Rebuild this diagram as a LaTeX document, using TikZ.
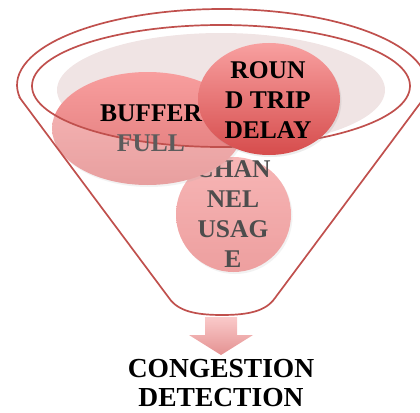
\documentclass[tikz,border=0pt]{standalone}
\usepackage{fontspec}
\setmainfont{Liberation Serif}
\usetikzlibrary{shapes.geometric, shadows}
\definecolor{funnelred}{RGB}{192,80,77}
\definecolor{haze}{RGB}{240,228,228}
\definecolor{fade}{RGB}{92,92,92}

\begin{document}
\begin{tikzpicture}[x=1pt, y=-1pt,
	bubble/.style={ellipse, inner sep=0pt, drop shadow={opacity=0.15, shadow xshift=1.5pt, shadow yshift=-2pt}},
	word/.style={align=center, inner sep=0pt, font=\fontsize{25.5}{30}\selectfont\bfseries},
	funnelrim/.style={draw=funnelred, line width=1.7pt}]
	\useasboundingbox (0,0) rectangle (420,412);
	\coordinate (lip) at (222,85);
	\coordinate (mouth) at (221,86);
	\coordinate (L) at (20.1,98.2);
	\coordinate (R) at (423.9,98.2);
	\fill [haze] (221,90) ellipse [x radius=164, y radius=57];
	\node [bubble, minimum width=115pt, minimum height=115pt, top color={rgb,255:red,244;green,150;blue,150}, bottom color={rgb,255:red,230;green,118;blue,118}] (chan) at (233.5,214.5) {};
	\node [word] (chantext) at (233,214) {CHAN\\NEL\\USAG\\E};
	\node [bubble, minimum width=191pt, minimum height=113pt, top color={rgb,255:red,248;green,158;blue,158}, bottom color={rgb,255:red,222;green,118;blue,118}] (buffer) at (147.5,128.5) {};
	\path [fill=white, fill opacity=0.3, even odd rule] (L) -- (169,298) .. controls (178,311) and (195,315) .. (222,315) .. controls (249,315) and (266,311) .. (275,298) -- (R) arc [start angle=10, end angle=-190, x radius=205, y radius=76] -- cycle (mouth) ellipse [x radius=189, y radius=61];
	\draw [funnelrim] (L) -- (169,298) .. controls (178,311) and (195,315) .. (222,315) .. controls (249,315) and (266,311) .. (275,298) -- (R) arc [start angle=10, end angle=-190, x radius=205, y radius=76] -- cycle;
	\draw [funnelrim] (mouth) ellipse [x radius=189, y radius=61];
	\node [word] (buffertext) at (151,128.5) {BUFFER\\\textcolor{fade}{FULL}};
	\node [bubble, minimum width=142pt, minimum height=112pt, top color={rgb,255:red,248;green,160;blue,160}, bottom color={rgb,255:red,214;green,76;blue,76}] (round) at (269,99) {};
	\node [word] (roundtext) at (268,100) {ROUN\\D TRIP\\DELAY};
	\path [top color={rgb,255:red,250;green,202;blue,202}, bottom color={rgb,255:red,228;green,145;blue,145}] (205,317) -- (237,317) -- (237,335) -- (253,335) -- (221,355) -- (189,335) -- (205,335) -- cycle;
	\node [align=center, inner sep=0pt, font=\fontsize{27.5}{29}\selectfont\bfseries] (title) at (221,383.5) {CONGESTION\\DETECTION};
\end{tikzpicture}
\end{document}
